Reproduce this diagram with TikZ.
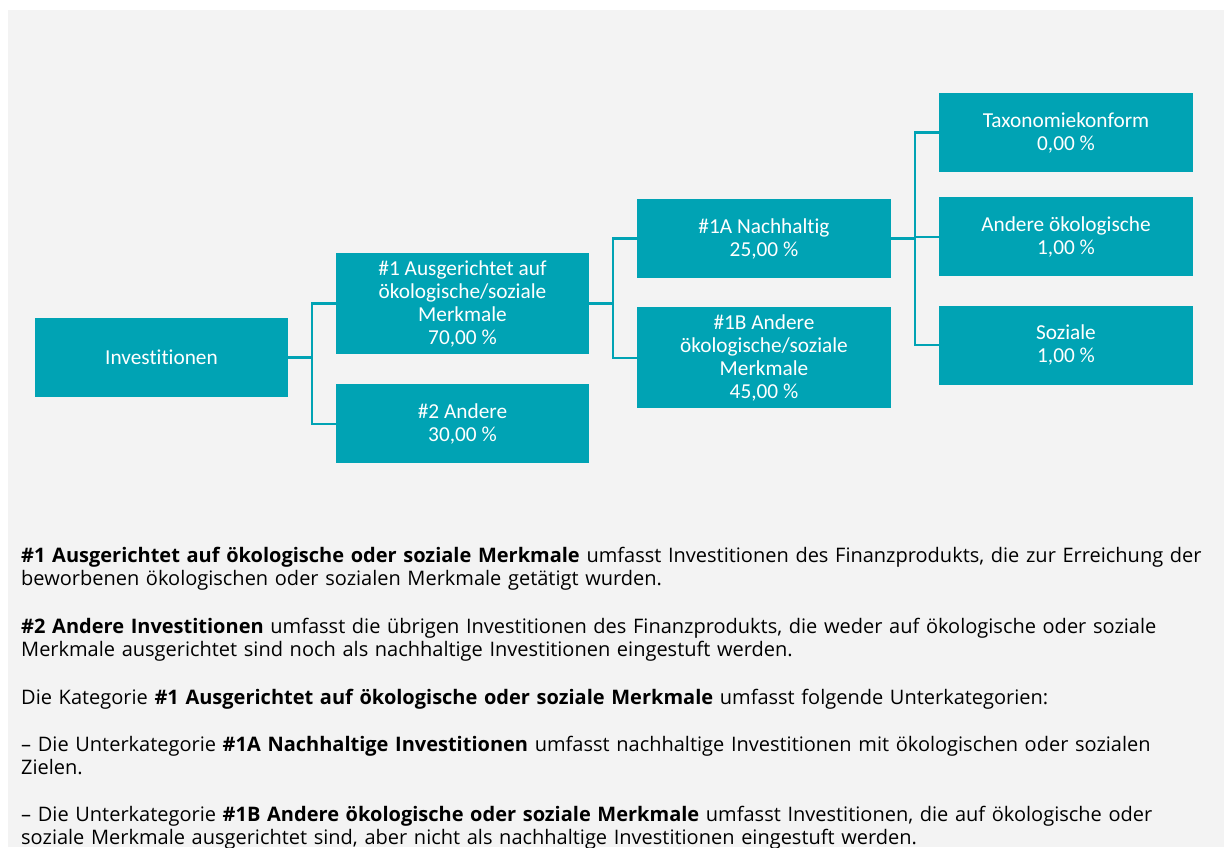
\documentclass[tikz,border=0pt]{standalone}
\usepackage{fontspec}
\setmainfont{Open Sans}
\newfontfamily\boxfont{Carlito}[Ligatures=NoCommon]
\usepackage{xcolor}
\usetikzlibrary{positioning}
\definecolor{petrol}{HTML}{00A3B4}
\definecolor{panel}{HTML}{F3F3F3}

\begin{document}
\begin{tikzpicture}[
    x=1pt, y=-1pt,
    every node/.style={align=center},
    box/.style={fill=petrol, text=white, inner sep=0pt,
                minimum width=253pt, minimum height=79pt,
                font=\boxfont\fontsize{21.3}{23}\selectfont},
    tall/.style={box, minimum height=101pt},
    conn/.style={draw=petrol, line width=2.2pt}
]
\useasboundingbox (0,0) rectangle (1224,847);
\fill[white] (0,0) rectangle (1224,847);
\fill[panel] (8,10) rectangle (1224,847);

\node[box] (inv) at (161.5,357.5) {Investitionen};
\node[tall] (art1) at (462.5,303.5) {\#1 Ausgerichtet auf\\ökologische/soziale\\Merkmale\\70,00 \%};
\node[box, below=30pt of art1] (art2) {\#2 Andere\\30,00 \%};
\node[box, minimum width=254pt] (art1a) at (764,238.5) {\#1A Nachhaltig\\25,00 \%};
\node[tall, minimum width=254pt, below=29pt of art1a] (art1b) {\#1B Andere\\ökologische/soziale\\Merkmale\\45,00 \%};
\node[box, minimum width=254pt] (tax) at (1066,132.5) {Taxonomiekonform\\0,00 \%};
\node[box, minimum width=254pt, below=25pt of tax] (oek) {Andere ökologische\\1,00 \%};
\node[box, minimum width=254pt, below=29pt of oek] (soz) {Soziale\\1,00 \%};

\draw[conn] (inv.east) -- ++(24,0) |- (art1.west);
\draw[conn] (inv.east) -- ++(24,0) |- (art2.west);
\draw[conn] (art1.east) -- ++(24,0) |- (art1a.west);
\draw[conn] (art1.east) -- ++(24,0) |- (art1b.west);
\draw[conn] (art1a.east) -- ++(24,0) |- (tax.west);
\draw[conn] (art1a.east) -- ++(24,0) |- (oek.west);
\draw[conn] (art1a.east) -- ++(24,0) |- (soz.west);

\node[anchor=north west, align=left, text width=1200pt, inner sep=0pt,
      font=\fontsize{20}{23}\selectfont] (notes) at (21,546.5) {%
\textbf{\#1 Ausgerichtet auf ökologische oder soziale Merkmale} umfasst Investitionen des Finanzprodukts, die zur Erreichung der\\
beworbenen ökologischen oder sozialen Merkmale getätigt wurden.\\[25pt]
\textbf{\#2 Andere Investitionen} umfasst die übrigen Investitionen des Finanzprodukts, die weder auf ökologische oder soziale\\
Merkmale ausgerichtet sind noch als nachhaltige Investitionen eingestuft werden.\\[25pt]
Die Kategorie \textbf{\#1 Ausgerichtet auf ökologische oder soziale Merkmale} umfasst folgende Unterkategorien:\\[24pt]
– Die Unterkategorie \textbf{\#1A Nachhaltige Investitionen} umfasst nachhaltige Investitionen mit ökologischen oder sozialen\\
Zielen.\\[24pt]
– Die Unterkategorie \textbf{\#1B Andere ökologische oder soziale Merkmale} umfasst Investitionen, die auf ökologische oder\\
soziale Merkmale ausgerichtet sind, aber nicht als nachhaltige Investitionen eingestuft werden.};
\end{tikzpicture}
\end{document}
